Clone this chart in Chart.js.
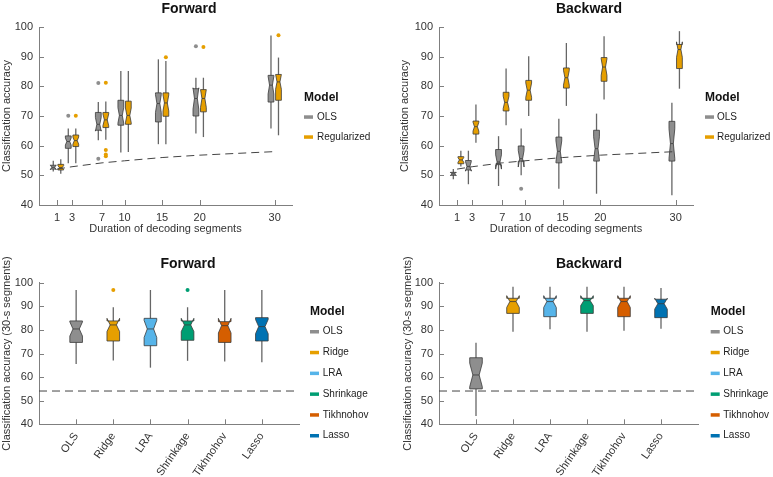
<!DOCTYPE html>
<html>
<head>
<meta charset="utf-8">
<script src="https://cdn.jsdelivr.net/npm/chart.js@4/dist/chart.umd.min.js"></script>
<style>
  body { margin: 0; background: #fff; width: 773px; height: 477px; position: relative; overflow: hidden; }
  canvas { position: absolute; }
</style>
</head>
<body>
<canvas id="fwdTop" width="386" height="240" style="left:0;top:0"></canvas>
<canvas id="bwdTop" width="383" height="240" style="left:390px;top:0"></canvas>
<canvas id="fwdBottom" width="386" height="237" style="left:0;top:240px"></canvas>
<canvas id="bwdBottom" width="383" height="237" style="left:390px;top:240px"></canvas>
<script>
// data
const durations = [1, 3, 7, 10, 15, 20, 30];
const models = ['OLS', 'Ridge', 'LRA', 'Shrinkage', 'Tikhnohov', 'Lasso'];
const yTicks = [40, 50, 60, 70, 80, 90, 100];

// each box: [low whisker, q1, median, q3, high whisker]
const fwdOls = [[51.3, 52.1, 52.7, 53.4, 54.9], [54.1, 59.1, 61.4, 63.3, 65.8], [61.8, 65.2, 67.2, 71.2, 74.7],
  [57.7, 66.9, 70.2, 75.3, 85.2], [60.5, 68.0, 74.2, 77.8, 89.1], [64.1, 70.0, 75.9, 79.2, 82.9], [65.8, 74.7, 80.4, 83.7, 97.1]];
const fwdOlsNotch = [0.8, 1.2, 2.3, 2.6, 3.0, 3.6, 3.0];
const fwdOlsOut = [[3, 70.1], [7, 81.1], [7, 55.6], [20, 93.5]];

const fwdReg = [[50.5, 51.8, 52.6, 53.7, 55.4], [54.1, 59.7, 61.7, 63.6, 65.8], [62.0, 66.1, 68.7, 71.2, 74.9],
  [57.9, 67.2, 70.2, 75.0, 85.2], [60.5, 69.9, 74.4, 77.8, 88.5], [62.9, 71.4, 75.9, 78.9, 82.9], [63.5, 75.3, 81.5, 84.0, 89.7]];
const fwdRegNotch = [0.7, 1.2, 2.0, 2.5, 2.7, 3.0, 2.5];
const fwdRegOut = [[3, 70.1], [7, 81.2], [7, 58.5], [7, 57.0], [7, 56.4], [15, 89.8], [20, 93.3], [30, 97.2]];

const bwdOls = [[48.7, 50.0, 50.5, 51.0, 52.1], [47.0, 51.8, 53.0, 55.0, 58.3], [46.4, 53.6, 54.5, 58.7, 63.2],
  [50.0, 54.8, 55.6, 59.9, 65.8], [45.5, 54.2, 58.1, 62.9, 69.1], [43.8, 54.8, 59.0, 65.2, 70.8], [43.3, 54.8, 60.7, 68.2, 74.5]];
const bwdOlsNotch = [0.6, 1.6, 2.4, 2.8, 3.5, 4.0, 5.0];
const bwdOlsOut = [[10, 45.5]];

const bwdReg = [[53.0, 53.9, 55.2, 56.3, 58.3], [61.0, 63.9, 66.4, 68.3, 73.9], [66.9, 71.7, 74.6, 78.0, 86.0],
  [70.0, 75.3, 78.7, 82.0, 90.1], [73.4, 79.4, 82.9, 86.2, 94.6], [75.6, 81.7, 86.5, 89.7, 96.9], [79.2, 86.0, 92.4, 94.1, 98.6]];
const bwdRegNotch = [0.8, 1.5, 2.1, 2.4, 2.5, 2.8, 2.6];
const bwdRegOut = [];

const chanceTop = [52.1, 52.9, 54.2, 54.9, 56.0, 56.8, 58.0];
const chanceBottom = 54.1;

const fwdModels = [[65.6, 74.7, 80.4, 83.8, 96.9], [67.0, 75.3, 82.1, 83.8, 89.6], [64.0, 73.3, 80.4, 84.9, 96.9],
  [66.9, 75.6, 82.1, 83.8, 89.6], [66.6, 74.7, 81.8, 83.5, 96.9], [66.3, 75.3, 81.4, 85.2, 96.9]];
const fwdModelsNotch = [3.0, 2.8, 3.6, 2.8, 3.1, 3.0];
const fwdModelsOut = [[1, 96.9], [3, 96.9]];

const bwdModels = [[43.5, 55.0, 60.9, 68.2, 74.6], [79.2, 87.0, 92.0, 93.4, 98.3], [80.3, 85.6, 92.0, 93.4, 98.3],
  [79.2, 87.0, 92.4, 93.4, 98.3], [79.6, 85.6, 92.0, 93.4, 98.3], [80.5, 85.2, 91.1, 93.0, 97.8]];
const bwdModelsNotch = [5.0, 2.5, 2.5, 2.1, 2.5, 2.3];
const bwdModelsOut = [];

const grey = '#8e8e8e';
const orange = '#E69F00';
const modelColors = ['#8e8e8e', '#E69F00', '#56B4E9', '#009E73', '#D55E00', '#0072B2'];

Chart.defaults.font.family = "'Liberation Sans', Arial, sans-serif";
Chart.defaults.color = '#333';

function makePanel(id, o) {
  const datasets = [{
    type: 'line',
    data: o.chance,
    borderColor: '#444',
    borderWidth: 1,
    borderDash: [8, 5],
    pointRadius: 0,
    fill: false
  }];
  o.groups.forEach(g => {
    datasets.push({
      type: 'scatter',
      data: g.out.map(p => ({x: p[0] + g.offset, y: p[1]})),
      backgroundColor: g.out.map(p => Array.isArray(g.color) ? g.color[p[0]] : g.color),
      borderWidth: 0,
      pointRadius: 2
    });
  });

  const extras = {
    id: 'extras',
    beforeDatasetsDraw(chart) {
      const ctx = chart.ctx, x = chart.scales.x, y = chart.scales.y;
      const Y = v => y.getPixelForValue(v);
      o.groups.forEach(g => g.stats.forEach((s, i) => {
        const [lo, q1, med, q3, hi] = s;
        const n = g.notch[i];
        const c = g.pos[i] + g.offset;
        const xl = x.getPixelForValue(c - g.width / 2);
        const xr = x.getPixelForValue(c + g.width / 2);
        const xm = x.getPixelForValue(c);
        const ind = (xr - xl) * 0.25;
        ctx.save();
        ctx.strokeStyle = '#666';
        ctx.lineWidth = 1.3;
        ctx.beginPath();
        ctx.moveTo(xm, Y(lo));
        ctx.lineTo(xm, Y(hi));
        ctx.stroke();
        ctx.beginPath();
        ctx.moveTo(xl, Y(q1));
        ctx.lineTo(xl, Y(med - n));
        ctx.lineTo(xl + ind, Y(med));
        ctx.lineTo(xl, Y(med + n));
        ctx.lineTo(xl, Y(q3));
        ctx.lineTo(xr, Y(q3));
        ctx.lineTo(xr, Y(med + n));
        ctx.lineTo(xr - ind, Y(med));
        ctx.lineTo(xr, Y(med - n));
        ctx.lineTo(xr, Y(q1));
        ctx.closePath();
        ctx.fillStyle = Array.isArray(g.color) ? g.color[i] : g.color;
        ctx.fill();
        ctx.strokeStyle = '#3a3a3a';
        ctx.lineWidth = 0.8;
        ctx.stroke();
        ctx.beginPath();
        ctx.moveTo(xl + ind, Y(med));
        ctx.lineTo(xr - ind, Y(med));
        ctx.stroke();
        ctx.restore();
      }));
    },
    afterDraw(chart) {
      const ctx = chart.ctx, x = chart.scales.x, y = chart.scales.y, a = chart.chartArea;
      ctx.save();
      // inward tick marks
      ctx.strokeStyle = '#7f7f7f';
      ctx.lineWidth = 1;
      ctx.beginPath();
      x.ticks.forEach(t => {
        const px = Math.round(x.getPixelForValue(t.value)) + 0.5;
        ctx.moveTo(px, a.bottom);
        ctx.lineTo(px, a.bottom - 5);
      });
      y.ticks.forEach(t => {
        const py = Math.round(y.getPixelForValue(t.value)) + 0.5;
        ctx.moveTo(a.left, py);
        ctx.lineTo(a.left + 5, py);
      });
      ctx.stroke();
      // panel title
      ctx.fillStyle = '#111';
      ctx.font = "bold 14px 'Liberation Sans', Arial, sans-serif";
      ctx.textAlign = 'center';
      ctx.textBaseline = 'middle';
      ctx.fillText(o.title, o.titleX, o.titleY);
      // legend
      ctx.textAlign = 'left';
      ctx.font = "bold 12px 'Liberation Sans', Arial, sans-serif";
      ctx.fillText('Model', o.legX, o.legY);
      ctx.font = "10px 'Liberation Sans', Arial, sans-serif";
      o.legItems.forEach((name, i) => {
        const ly = o.legY + o.legFirst + i * o.legStep;
        ctx.fillStyle = o.legColors[i];
        ctx.fillRect(o.legX, ly - 1.7, 9, 3.5);
        ctx.fillStyle = '#222';
        ctx.fillText(name, o.legText, ly);
      });
      ctx.restore();
    }
  };

  return new Chart(document.getElementById(id), {
    type: 'scatter',
    data: {datasets: datasets},
    options: {
      responsive: false,
      animation: false,
      layout: {padding: {left: o.padLeft, top: o.padTop, right: o.padRight, bottom: 0}},
      plugins: {legend: {display: false}, tooltip: {enabled: false}},
      scales: {
        x: {
          type: 'linear',
          min: o.xMin,
          max: o.xMax,
          afterBuildTicks: s => { s.ticks = o.xTicks.map(v => ({value: v})); },
          afterFit: s => { s.height = o.xHeight; },
          grid: {display: false, drawTicks: false},
          border: {color: '#7f7f7f'},
          ticks: {
            autoSkip: false,
            padding: 6,
            minRotation: o.rot,
            maxRotation: o.rot,
            font: {size: 11},
            color: '#333',
            callback: v => o.xLabel(v)
          },
          title: {display: !!o.xTitle, text: o.xTitle, font: {size: 11}, color: '#333', padding: {top: 0, bottom: 4}}
        },
        y: {
          min: 40,
          max: 100,
          afterBuildTicks: s => { s.ticks = yTicks.map(v => ({value: v})); },
          afterFit: s => { s.width = o.yWidth; },
          grid: {display: false, drawTicks: false},
          border: {color: '#7f7f7f'},
          ticks: {padding: 6, font: {size: 11}, color: '#333'},
          title: {display: true, text: o.yTitle, font: {size: 11}, color: '#333', padding: {top: 0, bottom: 0}}
        }
      }
    },
    plugins: [extras]
  });
}

const topChance = durations.map((d, i) => ({x: d, y: chanceTop[i]}));
const bottomChance = [{x: -1, y: chanceBottom}, {x: 6, y: chanceBottom}];

makePanel('fwdTop', {
  title: 'Forward', titleX: 189, titleY: 9,
  groups: [
    {stats: fwdOls, notch: fwdOlsNotch, out: fwdOlsOut, pos: durations, offset: -0.5, width: 0.77, color: grey},
    {stats: fwdReg, notch: fwdRegNotch, out: fwdRegOut, pos: durations, offset: 0.5, width: 0.77, color: orange}
  ],
  chance: topChance,
  xMin: -1.4, xMax: 32.3, xTicks: durations, xLabel: v => v, rot: 0,
  xTitle: 'Duration of decoding segments', yTitle: 'Classification accuracy',
  padLeft: 0, padTop: 27, padRight: 94, xHeight: 35, yWidth: 39,
  legX: 304, legY: 98, legText: 317, legFirst: 19, legStep: 20,
  legItems: ['OLS', 'Regularized'], legColors: [grey, orange]
});

makePanel('bwdTop', {
  title: 'Backward', titleX: 199, titleY: 9,
  groups: [
    {stats: bwdOls, notch: bwdOlsNotch, out: bwdOlsOut, pos: durations, offset: -0.5, width: 0.77, color: grey},
    {stats: bwdReg, notch: bwdRegNotch, out: bwdRegOut, pos: durations, offset: 0.5, width: 0.77, color: orange}
  ],
  chance: topChance,
  xMin: -1.4, xMax: 32.3, xTicks: durations, xLabel: v => v, rot: 0,
  xTitle: 'Duration of decoding segments', yTitle: 'Classification accuracy',
  padLeft: 8, padTop: 27, padRight: 80, xHeight: 35, yWidth: 41,
  legX: 315, legY: 98, legText: 327, legFirst: 19, legStep: 20,
  legItems: ['OLS', 'Regularized'], legColors: [grey, orange]
});

const modelIdx = models.map((m, i) => i);

makePanel('fwdBottom', {
  title: 'Forward', titleX: 188, titleY: 24,
  groups: [
    {stats: fwdModels, notch: fwdModelsNotch, out: fwdModelsOut, pos: modelIdx, offset: 0, width: 0.34, color: modelColors}
  ],
  chance: bottomChance,
  xMin: -1, xMax: 6, xTicks: modelIdx, xLabel: v => models[v], rot: 55,
  xTitle: '', yTitle: 'Classification accuracy (30-s segments)',
  padLeft: 0, padTop: 42.7, padRight: 87, xHeight: 52.7, yWidth: 39,
  legX: 310, legY: 71.7, legText: 322.7, legFirst: 20, legStep: 20.8,
  legItems: models, legColors: modelColors
});

makePanel('bwdBottom', {
  title: 'Backward', titleX: 199, titleY: 24,
  groups: [
    {stats: bwdModels, notch: bwdModelsNotch, out: bwdModelsOut, pos: modelIdx, offset: 0, width: 0.34, color: modelColors}
  ],
  chance: bottomChance,
  xMin: -1, xMax: 6, xTicks: modelIdx, xLabel: v => models[v], rot: 55,
  xTitle: '', yTitle: 'Classification accuracy (30-s segments)',
  padLeft: 11, padTop: 42.7, padRight: 75, xHeight: 52.7, yWidth: 38,
  legX: 320.7, legY: 71.7, legText: 333.3, legFirst: 20, legStep: 20.8,
  legItems: models, legColors: modelColors
});
</script>
</body>
</html>
